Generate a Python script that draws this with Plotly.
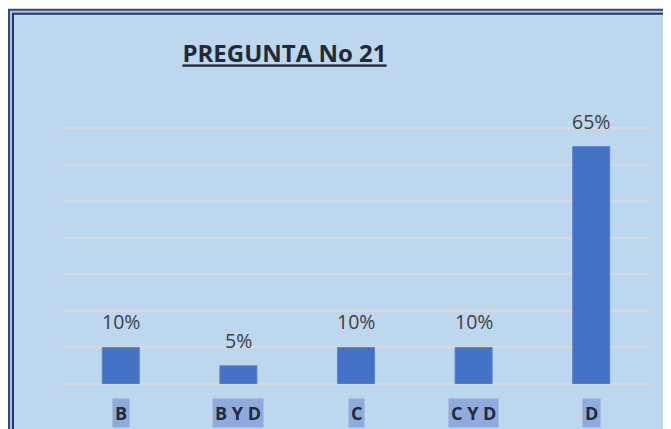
import plotly.graph_objects as go

categorias = ['B', 'B Y D', 'C', 'C Y D', 'D']
porcentajes = [0.10, 0.05, 0.10, 0.10, 0.65]
etiquetas = ['10%', '5%', '10%', '10%', '65%']
titulo = 'PREGUNTA No 21'

fig = go.Figure()
fig.add_trace(go.Bar(
    x = categorias,
    y = porcentajes,
    marker = dict(color='#4472C4', line=dict(color='#5B84CC', width=1)),
    width = 0.315,
    hoverinfo = 'skip',
))

# etiquetas de datos encima de cada barra
for cat, val, txt in zip(categorias, porcentajes, etiquetas):
    fig.add_annotation(
        x = cat, y = val, text = txt,
        showarrow = False, yanchor = 'bottom', yshift = 10,
        font = dict(family='Open Sans', size=19.5, color='#404040'),
    )
    # etiquetas de categoria con fondo resaltado
    fig.add_annotation(
        x = cat, y = -0.112, yref = 'paper', text = '<b>' + cat + '</b>',
        showarrow = False, yanchor = 'middle',
        bgcolor = '#8FAADC', borderpad = 2,
        font = dict(family='Open Sans', size=18, color='#1F2A3A'),
    )

# marco doble del grafico
fig.add_shape(type='rect', xref='paper', yref='paper', layer='below',
    x0=-0.0901, x1=1.07, y0=-0.26, y1=1.4232,
    line=dict(color='#2F4A78', width=2), fillcolor='#A9C2E6')
fig.add_shape(type='rect', xref='paper', yref='paper', layer='below',
    x0=-0.0833, x1=1.07, y0=-0.26, y1=1.408,
    line=dict(color='#203864', width=2), fillcolor='#BDD7EE')

# la pagina deja 8px de margen, por eso 663x421
fig.update_layout(
    width = 663, height = 421,
    margin = dict(l=54, r=21, t=112.5, b=45),
    paper_bgcolor = 'white',
    plot_bgcolor = 'rgba(0,0,0,0)',
    showlegend = False,
    title = dict(
        text = '<b><u>' + titulo + '</u></b>',
        x = 276.5 / 663, xanchor = 'center',
        y = 1 - 46 / 421, yanchor = 'middle',
        font = dict(family='Open Sans', size=24, color='#222A35'),
    ),
    xaxis = dict(showticklabels=False, showgrid=False, showline=False, ticks=''),
    yaxis = dict(
        range = [0, 0.72], dtick = 0.1,
        showticklabels = False,
        gridcolor = '#D9D9D9', gridwidth = 1.5,
        zeroline = True, zerolinecolor = '#D9D9D9', zerolinewidth = 1.5,
    ),
)

fig.write_html("out.html")
